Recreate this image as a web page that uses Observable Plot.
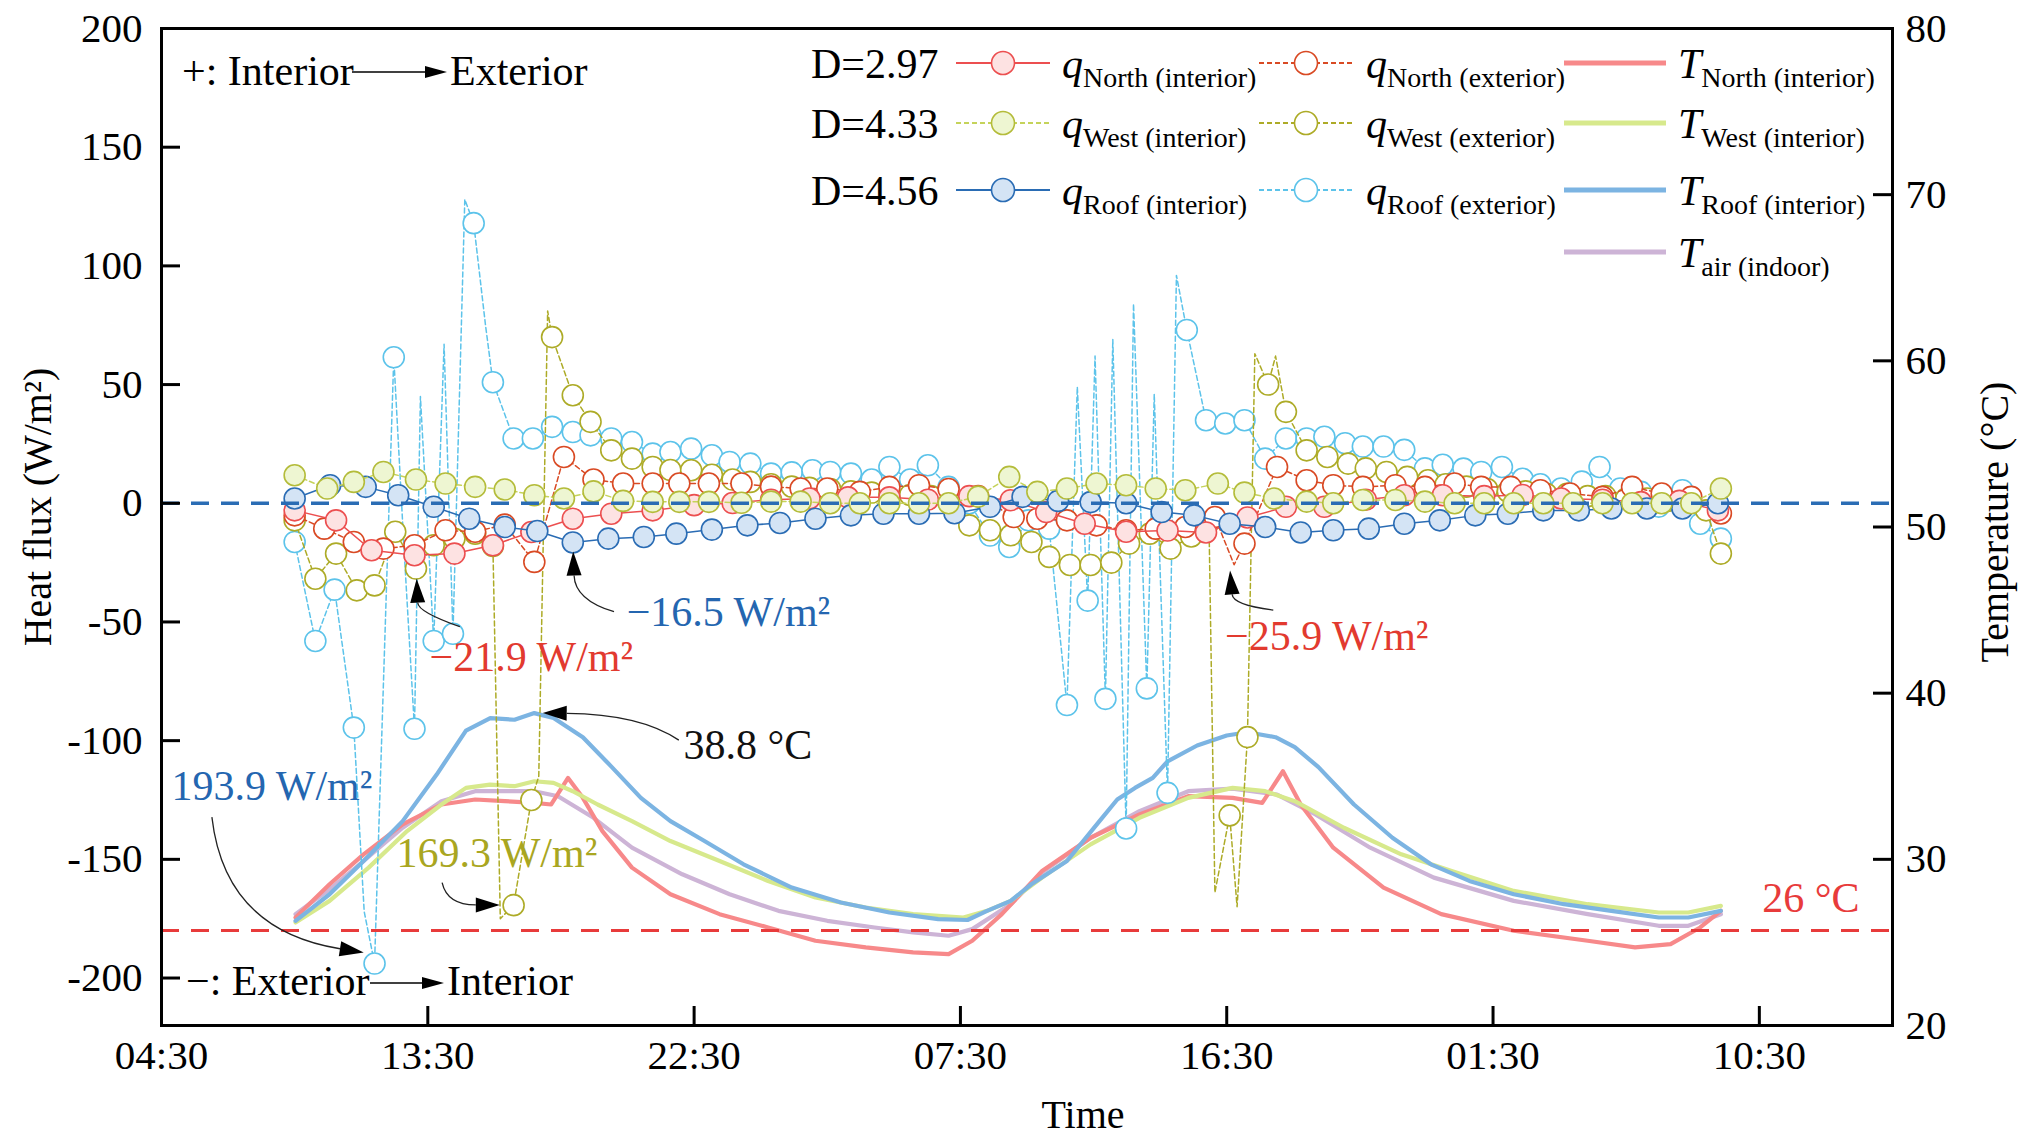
<!DOCTYPE html>
<html><head><meta charset="utf-8">
<script src="https://cdn.jsdelivr.net/npm/d3@7"></script>
<script src="https://cdn.jsdelivr.net/npm/@observablehq/plot@0.6"></script>
<style>
html,body{margin:0;padding:0;background:#fff;}
#chart{width:2021px;height:1139px;overflow:hidden;}
</style></head><body><div id="chart"></div>
<script>
// ---------- axis ticks ----------
const xTicks = [0, 9, 18, 27, 36, 45, 54];               // hours after 04:30 on day 1
const xTickLabels = ["04:30","13:30","22:30","07:30","16:30","01:30","10:30"];
const yTicks = [-200,-150,-100,-50,0,50,100,150,200];
const tempTicks = [20,30,40,50,60,70,80];

// ---------- heat flux, markers (time in hours after 04:30, W/m2) ----------
const qNorthIntT = [4.5,5.9,7.1,8.55,9.9,11.2,12.5,13.9,15.2,16.6,18.0,19.3,20.6,21.9,23.2,24.6,25.9,27.3,28.7,29.9,31.2,32.6,34.0,35.3,36.7,38.0,39.3,40.7,42.0,43.3,44.7,46.0,47.3,48.7,50.0,51.3,52.6];
const qNorthIntV = [-3.0,-7.2,-19.8,-21.9,-21.2,-17.7,-12.1,-6.5,-4.4,-3.0,-0.8,0.1,1.5,2.0,2.5,2.5,1.5,3.0,1.3,-3.7,-8.6,-12.0,-11.5,-12.3,-6.0,-1.5,-1.5,1.5,3.4,3.4,3.0,3.5,2.0,1.5,0.5,1.0,-3.0];

const qNorthExtT = [4.5,5.5,6.5,7.5,8.55,9.6,10.6,11.6,12.6,13.6,14.6,15.6,16.6,17.5,18.5,19.6,20.6,21.6,22.5,23.6,24.6,25.6,26.6,27.6,28.8,29.6,30.6,31.6,32.6,33.6,34.6,35.6,36.6,37.7,38.7,39.6,40.6,41.7,42.7,43.7,44.6,45.6,46.6,47.6,48.7,49.7,50.7,51.7,52.7];
const qNorthExtV = [-5.1,-10.7,-16.3,-19.1,-17.7,-11.4,-12,-9,-24.7,19.5,10,8.3,8.3,8.3,8.3,8.3,7,6.2,6.2,4.8,6.9,7.6,6,3,-5.8,-6.5,-7.2,-9.3,-11.4,-10.7,-10,-5.8,-17,15.3,9.7,7.6,6.9,7.6,6.9,8.3,6.9,6.9,5.5,4.1,2.7,6.9,4.1,2.7,-4.3];
const qNorthExtPeakT = [36.25];
const qNorthExtPeakV = [-25.9];

const qWestIntT = [4.5,5.6,6.5,7.5,8.6,9.6,10.6,11.6,12.6,13.6,14.6,15.6,16.6,17.5,18.5,19.6,20.6,21.6,22.6,23.6,24.6,25.6,26.6,27.6,28.65,29.6,30.6,31.6,32.6,33.6,34.6,35.7,36.6,37.6,38.7,39.6,40.6,41.7,42.7,43.7,44.7,45.7,46.7,47.7,48.7,49.7,50.7,51.7,52.7];
const qWestIntV = [11.8,6.2,9.0,13.2,10.0,8.3,6.9,5.8,3.4,2.0,5.0,1.0,0.6,0.6,0.6,0.2,0.7,0.7,0,0,0,0,0,2.8,11.1,4.8,6.2,8.3,7.6,6.2,5.5,8.3,4.5,2.0,0.7,0,1.4,1.4,0.7,0,0,0,0,0,0,0,0,0,6.2];

const qWestExtT = [4.5,5.2,5.9,6.6,7.2,7.9,8.6,9.2,9.9,10.6,11.2,11.9,12.5,13.2,13.9,14.5,15.2,15.9,16.6,17.2,17.9,18.6,19.3,19.9,20.6,21.3,21.9,22.6,23.3,24.0,24.6,25.3,26.0,26.7,27.3,28.0,28.7,29.4,30.0,30.7,31.4,32.1,32.7,33.4,34.1,34.8,35.4,36.1,36.7,37.4,38.0,38.7,39.4,40.1,40.7,41.4,42.1,42.8,43.4,44.1,44.8,45.5,46.1,46.8,47.5,48.2,48.8,49.5,50.2,50.9,51.6,52.2,52.7];
const qWestExtV = [-7.2,-31.8,-21.2,-36.7,-34.6,-12,-27.5,-17.7,-15,-12.8,-18,-169.3,-125,70,45.5,34.3,22.3,18.8,15.3,14,13.9,12,10,9,8,7,6.5,6,5,4.5,4,3.5,3,0,-9.3,-11.4,-13.5,-16.3,-22.6,-26,-26,-25,-17,-12.8,-19.1,-14,-8,-131.5,-98.5,50,38.5,22.3,19.5,16.7,14.7,13.2,11.1,9.7,8,7,6,5,5,4,4,3,3,2,2,1,0,-3,-21.2];
const qWestExtPeakT = [11.45,12.75,13.05,35.6,36.35,36.95,37.65];
const qWestExtPeakV = [-175,-115,81,-164,-170,63,62];

const qRoofIntT = [4.5,5.7,6.9,8.0,9.2,10.4,11.6,12.7,13.9,15.1,16.3,17.4,18.6,19.8,20.9,22.1,23.3,24.4,25.6,26.8,28.0,29.1,30.3,31.4,32.6,33.8,34.9,36.1,37.3,38.5,39.6,40.8,42.0,43.2,44.4,45.5,46.7,47.9,49.0,50.2,51.4,52.6];
const qRoofIntV = [2,7.6,6.9,3.4,-1.5,-6.5,-10,-11.7,-16.5,-14.9,-14.2,-12.8,-11.1,-9.3,-8.3,-6.5,-5.1,-4.4,-4.4,-4.2,-1.5,2.7,1.0,0.5,0,-3.7,-5.1,-8.6,-10,-12.3,-11.4,-10.7,-8.6,-7.2,-5.1,-4.4,-3,-3,-2.2,-2.2,-2.2,0];

const qRoofExtT = [4.5,5.2,5.85,6.5,7.2,7.85,8.55,9.2,9.85,10.55,11.2,11.9,12.55,13.2,13.9,14.5,15.2,15.9,16.6,17.2,17.9,18.6,19.2,19.9,20.6,21.3,22.0,22.6,23.3,24.0,24.6,25.3,25.9,26.6,27.3,28.0,28.65,29.3,30.0,30.6,31.3,31.9,32.6,33.3,34.0,34.65,35.3,35.95,36.6,37.3,38.0,38.7,39.3,40.0,40.6,41.3,42.0,42.7,43.3,44.0,44.6,45.3,46.0,46.6,47.3,48.0,48.6,49.3,50.0,50.6,51.4,52.0,52.7];
const qRoofExtV = [-16.3,-58,-36.4,-94.5,-193.9,61.5,-95,-58,-55,118,51,27.3,27.3,32.2,30,28.6,27.3,25.8,20.9,21.6,23,20.2,17.4,16.7,12.5,13,13.9,13.2,12.5,10,15.3,10,16,6.9,0,-13.6,-18.4,-7.2,-10.7,-85,-41,-82.4,-137,-78,-122,73,35,33.6,35,18.8,27.3,27.3,28,25.3,23.9,23.9,22.5,14.7,16.2,14.6,13.2,15.3,10.3,8,6.2,9.1,15.3,6.2,4.8,-1.4,5.5,-8.6,-14.9];
const qRoofExtPeakT = [6.85,8.2,8.75,9.55,10.25,10.95,30.95,31.55,32.15,32.85,33.55,34.3];
const qRoofExtPeakV = [-172,-20,45,67,128,75,49,62,69,84,46,96];

// ---------- temperatures (°C) ----------
const tNorthT = [4.53,5.68,6.83,8.15,9.46,10.6,11.6,12.6,13.17,13.74,14.24,14.9,15.9,17.2,18.86,20.5,22.1,23.8,25.4,26.6,27.4,28.4,29.76,31.4,33.05,34.7,36.2,37.2,37.9,38.5,39.6,41.3,43.25,45.7,48.2,49.8,51.0,52.0,52.7];
const tNorthV = [26.5,28.5,30.3,32.1,33.3,33.6,33.5,33.4,33.3,34.9,33.7,31.7,29.5,27.9,26.7,25.9,25.1,24.7,24.4,24.3,25.1,26.7,29.3,31.3,32.7,33.8,33.7,33.4,35.3,33.3,30.7,28.3,26.7,25.7,25.1,24.7,24.9,25.9,26.9];
const tWestT = [4.53,5.68,7.0,8.3,9.46,10.29,11.1,11.93,12.6,13.25,13.9,14.74,15.9,17.2,18.86,20.5,22.1,23.8,25.4,27.1,27.9,28.7,29.76,31.4,33.05,34.7,36.2,37.3,38.3,39.96,41.9,43.6,45.7,48.2,50.6,51.6,52.7];
const tWestV = [26.2,27.5,29.5,31.7,33.3,34.3,34.5,34.4,34.7,34.6,34.1,33.3,32.3,31.1,29.9,28.7,27.7,27.1,26.7,26.5,26.9,27.5,28.9,30.9,32.5,33.7,34.3,34.1,33.5,31.9,30.3,29.3,28.1,27.3,26.8,26.8,27.2];
const tRoofT = [4.53,5.68,6.83,8.15,9.30,10.29,11.11,11.93,12.6,13.25,14.24,15.22,16.2,17.2,18.35,19.67,21.3,22.96,24.6,26.25,27.24,27.9,28.7,29.4,30.6,31.7,32.3,32.9,33.5,34.0,35.0,36.0,36.7,37.65,38.3,39.1,40.3,41.6,42.9,44.2,45.7,47.4,49.0,50.6,51.6,52.7];
const tRoofV = [26.3,27.9,29.9,32.3,35.1,37.75,38.5,38.4,38.8,38.5,37.35,35.55,33.7,32.3,31.1,29.7,28.3,27.4,26.8,26.4,26.35,26.9,27.5,28.5,29.9,32.3,33.6,34.3,34.9,35.9,36.85,37.45,37.65,37.35,36.75,35.55,33.3,31.3,29.7,28.7,27.9,27.3,26.9,26.5,26.5,26.9];
const tAirT = [4.53,5.68,6.83,8.15,9.46,10.6,11.76,12.6,13.4,14.6,15.9,17.6,19.2,20.85,22.5,24.1,25.4,26.6,27.4,28.7,29.76,31.4,33.05,34.7,36.2,37.7,39.0,40.85,43.0,45.7,48.2,50.6,51.6,52.7];
const tAirV = [26.7,28.2,29.9,31.9,33.5,34.1,34.1,34.1,33.8,32.5,30.7,29.1,27.9,26.9,26.3,25.9,25.6,25.4,25.8,27.3,29.2,31.3,32.9,34.1,34.25,33.9,32.7,30.7,28.9,27.5,26.7,26.0,26.0,26.7];

// reference lines (heat-flux axis units)
const zeroFlux = 0;
const refFlux26 = -180;

// ---------- helpers ----------
const tf = T => -220 + (T - 20) * 7;            // temperature -> left-axis units (20..80 °C over -220..200)
const ti = y => (y + 220) / 7 + 20;
const pts = (ts, vs) => ts.map((t, i) => ({t, v: vs[i]}));
const withPeaks = (ts, vs, pt, pv) => d3.sort(pts(ts, vs).concat(pts(pt, pv)), d => d.t);

const S = {
  nInt: {stroke: "#ec4f50", line: "#ec4f50", fill: "#fde2e2", dash: null},
  nExt: {stroke: "#d94a24", line: "#d94a24", fill: "#ffffff", dash: "5,3"},
  wInt: {stroke: "#b4bc3a", line: "#c5d35a", fill: "#eef6d2", dash: "5,3"},
  wExt: {stroke: "#adab27", line: "#adab27", fill: "#ffffff", dash: "5,3"},
  rInt: {stroke: "#2a6cb4", line: "#2a6cb4", fill: "#d4e4f5", dash: null},
  rExt: {stroke: "#5cc3ea", line: "#5cc3ea", fill: "#ffffff", dash: "5,3"}
};
const C = {tNorth: "#f7898a", tWest: "#d7e98c", tRoof: "#7cb4e2", tAir: "#cdb4d6"};

const W = 2021, H = 1139, mL = 161, mR = 129, mT = 28, mB = 114;
const fw = W - mL - mR, fh = H - mT - mB;

const qSeries = [
  {s: S.rExt, line: withPeaks(qRoofExtT, qRoofExtV, qRoofExtPeakT, qRoofExtPeakV), dots: pts(qRoofExtT, qRoofExtV)},
  {s: S.wExt, line: withPeaks(qWestExtT, qWestExtV, qWestExtPeakT, qWestExtPeakV), dots: pts(qWestExtT, qWestExtV)},
  {s: S.nExt, line: withPeaks(qNorthExtT, qNorthExtV, qNorthExtPeakT, qNorthExtPeakV), dots: pts(qNorthExtT, qNorthExtV)},
  {s: S.nInt, line: pts(qNorthIntT, qNorthIntV), dots: pts(qNorthIntT, qNorthIntV)},
  {s: S.rInt, line: pts(qRoofIntT, qRoofIntV), dots: pts(qRoofIntT, qRoofIntV)},
  {s: S.wInt, line: pts(qWestIntT, qWestIntV), dots: pts(qWestIntT, qWestIntV)}
];
const tSeries = [
  {c: C.tAir, d: pts(tAirT, tAirV)},
  {c: C.tNorth, d: pts(tNorthT, tNorthV)},
  {c: C.tWest, d: pts(tWestT, tWestV)},
  {c: C.tRoof, d: pts(tRoofT, tRoofV)}
];

// annotation labels (placed in data coordinates)
const annotations = [
  {text: "38.8 °C", color: "#111", x: 17.64, y: -102, from: [17.5, -100], ctrl: [16.2, -89], to: [12.9, -88.6]},
  {text: "193.9 W/m²", color: "#2466b0", x: 0.34, y: -119.3, from: [1.72, -132.4], ctrl: [2.16, -180], to: [6.85, -189.5]},
  {text: "169.3 W/m²", color: "#a9a621", x: 7.94, y: -147.5, from: [9.5, -160], ctrl: [9.67, -169.4], to: [11.45, -169.4]},
  {text: "\u221221.9 W/m²", color: "#e23a2f", x: 9.06, y: -65, from: [10.1, -52.2], ctrl: [8.69, -46], to: [8.64, -32]},
  {text: "\u221216.5 W/m²", color: "#2466b0", x: 15.72, y: -46, from: [15.31, -45.9], ctrl: [13.99, -40.9], to: [13.93, -20.5]},
  {text: "\u221225.9 W/m²", color: "#e23a2f", x: 35.94, y: -56, from: [37.59, -45.2], ctrl: [36.23, -43], to: [36.13, -28.5]},
  {text: "26 °C", color: "#e83b3b", x: 54.1, y: -166.4}
];

const marks = [];
for (const s of tSeries) marks.push(Plot.line(s.d, {x: "t", y: d => tf(d.v), stroke: s.c, strokeWidth: 4.2}));
for (const q of qSeries) {
  marks.push(Plot.line(q.line, {x: "t", y: "v", stroke: q.s.line, strokeWidth: 1.5, strokeDasharray: q.s.dash || undefined}));
  marks.push(Plot.dot(q.dots, {x: "t", y: "v", r: 10.5, stroke: q.s.stroke, fill: q.s.fill, strokeWidth: 1.6}));
}
marks.push(Plot.ruleY([zeroFlux], {stroke: "#2a6cb4", strokeWidth: 3.5, strokeDasharray: "18,12"}));
marks.push(Plot.ruleY([refFlux26], {stroke: "#e83b3b", strokeWidth: 3, strokeDasharray: "18,12"}));
marks.push(Plot.text(annotations, {x: "x", y: "y", text: "text", fill: "color", textAnchor: "start", lineAnchor: "middle", fontSize: 42}));
// inward ticks
marks.push(Plot.tickY(yTicks, {y: d => d, insetRight: fw - 19, strokeWidth: 3, stroke: "#000"}));
marks.push(Plot.tickY(tempTicks, {y: d => tf(d), insetLeft: fw - 19, strokeWidth: 3, stroke: "#000"}));
marks.push(Plot.tickX(xTicks, {x: d => d, insetTop: fh - 19, strokeWidth: 3, stroke: "#000"}));
marks.push(Plot.frame({stroke: "#000", strokeWidth: 3}));
marks.push(Plot.axisX(xTicks, {tickFormat: d => xTickLabels[xTicks.indexOf(d)], tickSize: 0, tickPadding: 14, fontSize: 41, label: null}));
marks.push(Plot.axisY(yTicks, {anchor: "left", tickFormat: d => String(d), tickSize: 0, tickPadding: 19, fontSize: 41, label: null}));
marks.push(Plot.axisY(tempTicks.map(tf), {anchor: "right", tickFormat: d => String(Math.round(ti(d))), tickSize: 0, tickPadding: 13, fontSize: 41, label: null}));

const plot = Plot.plot({
  width: W, height: H,
  marginLeft: mL, marginRight: mR, marginTop: mT, marginBottom: mB,
  style: {fontFamily: "'Liberation Serif', 'Times New Roman', serif", fontSize: "41px", color: "#000", background: "#fff", overflow: "visible"},
  x: {domain: [0, 58.5]},
  y: {domain: [-220, 200]},
  marks
});
document.getElementById("chart").append(plot);

// ---------- overlays: arrows, legend, axis titles ----------
const sx = plot.scale("x"), sy = plot.scale("y");
const X = v => sx.apply(v), Y = v => sy.apply(v);
const svg = d3.select(plot);
const g = svg.append("g")
  .attr("font-family", "'Liberation Serif', 'Times New Roman', serif")
  .attr("text-anchor", "start")
  .attr("fill", "#000");

function arrowHead(x1, y1, ang, hl, hw) {
  const bx = x1 - hl * Math.cos(ang), by = y1 - hl * Math.sin(ang);
  return `M${x1},${y1}L${bx - hw * Math.sin(ang)},${by + hw * Math.cos(ang)}L${bx + hw * Math.sin(ang)},${by - hw * Math.cos(ang)}Z`;
}
for (const a of annotations) {
  if (!a.from) continue;
  const x0 = X(a.from[0]), y0 = Y(a.from[1]), cx = X(a.ctrl[0]), cy = Y(a.ctrl[1]), x1 = X(a.to[0]), y1 = Y(a.to[1]);
  const ang = Math.atan2(y1 - cy, x1 - cx);
  const hl = 24;
  const bx = x1 - hl * Math.cos(ang), by = y1 - hl * Math.sin(ang);
  g.append("path").attr("d", `M${x0},${y0}Q${cx},${cy} ${bx},${by}`).attr("fill", "none").attr("stroke", "#222").attr("stroke-width", 1.3);
  g.append("path").attr("d", arrowHead(x1, y1, ang, hl, 7.5)).attr("fill", "#000");
}

// corner notes
function dirNote(x, yb, left, right, ax0, ax1, ay) {
  g.append("text").attr("x", x).attr("y", yb).attr("font-size", 42).text(left);
  g.append("line").attr("x1", ax0).attr("x2", ax1 - 20).attr("y1", ay).attr("y2", ay).attr("stroke", "#000").attr("stroke-width", 1.5);
  g.append("path").attr("d", arrowHead(ax1, ay, 0, 22, 6)).attr("fill", "#000");
  g.append("text").attr("x", ax1 + 3).attr("y", yb).attr("font-size", 42).text(right);
}
dirNote(182, 85, "+: Interior", "Exterior", 352, 447, 72);
dirNote(186, 995, "\u2212: Exterior", "Interior", 370, 444, 983);

// legend
const legRows = [
  {y: 63, d: "D=2.97", a: [S.nInt, "North (interior)"], b: [S.nExt, "North (exterior)"], t: [C.tNorth, "North (interior)"]},
  {y: 123, d: "D=4.33", a: [S.wInt, "West (interior)"], b: [S.wExt, "West (exterior)"], t: [C.tWest, "West (interior)"]},
  {y: 190, d: "D=4.56", a: [S.rInt, "Roof (interior)"], b: [S.rExt, "Roof (exterior)"], t: [C.tRoof, "Roof (interior)"]},
  {y: 252, t: [C.tAir, "air (indoor)"]}
];
function legLabel(x, y, main, sub) {
  const t = g.append("text").attr("x", x).attr("y", y + 15).attr("font-size", 42);
  t.append("tspan").attr("font-style", "italic").text(main);
  t.append("tspan").attr("font-size", 28).attr("dy", 9).text(sub);
}
function legSym(cx, y, s) {
  g.append("line").attr("x1", cx - 47).attr("x2", cx + 47).attr("y1", y).attr("y2", y)
    .attr("stroke", s.line).attr("stroke-width", 1.8).attr("stroke-dasharray", s.dash || null);
  g.append("circle").attr("cx", cx).attr("cy", y).attr("r", 11.5).attr("fill", s.fill).attr("stroke", s.stroke).attr("stroke-width", 1.6);
}
for (const r of legRows) {
  if (r.d) g.append("text").attr("x", 811).attr("y", r.y + 15).attr("font-size", 42).text(r.d);
  if (r.a) { legSym(1003, r.y, r.a[0]); legLabel(1062, r.y, "q", r.a[1]); }
  if (r.b) { legSym(1306, r.y, r.b[0]); legLabel(1366, r.y, "q", r.b[1]); }
  g.append("line").attr("x1", 1564).attr("x2", 1666).attr("y1", r.y).attr("y2", r.y).attr("stroke", r.t[0]).attr("stroke-width", 5);
  legLabel(1678, r.y, "T", r.t[1]);
}

// axis titles
g.append("text").attr("transform", "translate(37,507) rotate(-90)").attr("text-anchor", "middle").attr("dy", "0.35em").attr("font-size", 40).text("Heat flux (W/m²)");
g.append("text").attr("transform", "translate(1994,522) rotate(-90)").attr("text-anchor", "middle").attr("dy", "0.35em").attr("font-size", 40).text("Temperature (°C)");
g.append("text").attr("x", 1083).attr("y", 1128).attr("text-anchor", "middle").attr("font-size", 40).text("Time");
</script></body></html>
